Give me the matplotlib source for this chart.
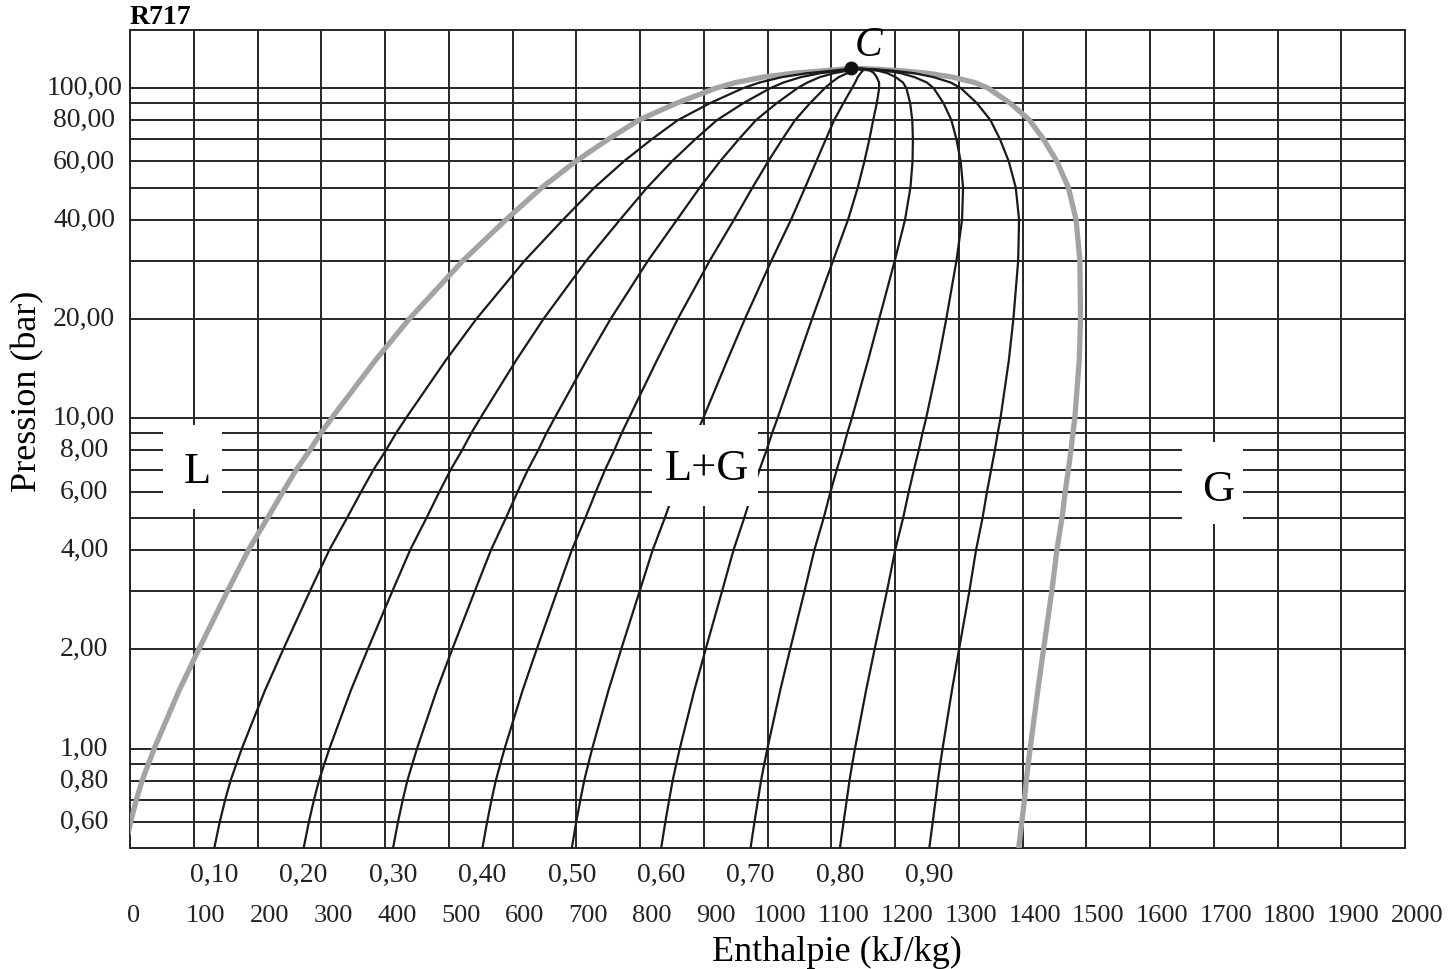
import numpy as np
import matplotlib
matplotlib.use('Agg')
import matplotlib.pyplot as plt
from matplotlib.patches import Rectangle
from matplotlib.ticker import FixedLocator, NullFormatter
from matplotlib.transforms import (ScaledTranslation, blended_transform_factory,
                                   IdentityTransform)

plt.rcParams['font.family'] = ['Liberation Serif', 'DejaVu Serif']

# ---- data ---------------------------------------------------------------
# saturation pressures (bar) and saturated liquid / vapour enthalpies (kJ/kg)
p_sat = [0.5, 0.6, 0.7, 0.8, 0.9, 1, 1.5, 2, 3, 4, 5, 6, 7, 8, 9, 10, 15, 20,
         30, 40, 50, 60, 70, 80, 90, 100, 104, 108, 111, 113, 114, 115]
h_liquid = [-8, 1, 10, 19, 29, 38, 77, 108, 153, 186, 216, 240, 261, 282,
            299, 316, 385, 438, 522, 590, 646, 699, 750, 798, 857, 919, 950,
            993, 1041, 1091, 1114, 1131]
h_vapour = [1394, 1399, 1403, 1406, 1409, 1412, 1424, 1433, 1446, 1454, 1462,
            1467, 1472, 1476, 1479, 1482, 1489, 1491, 1490, 1484, 1472, 1454,
            1433, 1411, 1381, 1346, 1325, 1290, 1251, 1208, 1176, 1131]

# critical point
h_crit = 1131
p_crit = 115

# vapour qualities of the iso-quality lines
qualities = [0.1, 0.2, 0.3, 0.4, 0.5, 0.6, 0.7, 0.8, 0.9]
quality_labels = ['0,10', '0,20', '0,30', '0,40', '0,50', '0,60', '0,70',
                  '0,80', '0,90']

# axis ticks
h_ticks = list(range(0, 2001, 100))
h_tick_labels = [str(v) for v in h_ticks]
p_ticks = [0.6, 0.8, 1, 2, 4, 6, 8, 10, 20, 40, 60, 80, 100]
p_tick_labels = ['0,60', '0,80', '1,00', '2,00', '4,00', '6,00', '8,00',
                 '10,00', '20,00', '40,00', '60,00', '80,00', '100,00']
p_minor = [0.7, 0.9, 3, 5, 7, 9, 30, 50, 70, 90]

# ---- figure ---------------------------------------------------------------
W, H = 1452, 970
fig = plt.figure(figsize=(W / 100, H / 100), dpi=100)
ax = fig.add_axes([130 / W, 1 - 849 / H, 1275 / W, 818 / H])

ax.set_yscale('log')
ax.set_xlim(0, 2000)
ax.set_ylim(0.5, 150)

grid_col = '#262626'
ax.set_xticks(h_ticks)
ax.set_xticklabels(h_tick_labels)
ax.yaxis.set_major_locator(FixedLocator(p_ticks))
ax.set_yticklabels(p_tick_labels)
ax.yaxis.set_minor_locator(FixedLocator(p_minor))
ax.yaxis.set_minor_formatter(NullFormatter())
ax.xaxis.set_minor_locator(FixedLocator([]))

ax.grid(True, which='both', color=grid_col, lw=1.4)
ax.set_axisbelow(True)
for s in ax.spines.values():
    s.set_color(grid_col)
    s.set_linewidth(1.4)

ax.tick_params(axis='both', which='both', length=0)
ax.tick_params(axis='y', labelsize=20, pad=33, colors='#222222')
ax.tick_params(axis='x', labelsize=19, pad=40.5, colors='#222222')

# saturation dome
p_arr = np.array(p_sat)
hl = np.array(h_liquid, dtype=float)
hv = np.array(h_vapour, dtype=float)
dome_col = '#a3a3a3'
ax.plot(hl, p_arr, color=dome_col, lw=3.8, zorder=3, solid_capstyle='butt',
        solid_joinstyle='round')
ax.plot(hv, p_arr, color=dome_col, lw=3.8, zorder=3, solid_capstyle='butt',
        solid_joinstyle='round')

# iso-quality lines
for q in qualities:
    hq = hl + q * (hv - hl)
    ax.plot(hq, p_arr, color='#1a1a1a', lw=1.6, zorder=4,
            solid_joinstyle='round')

# critical point
ax.plot([h_crit], [p_crit], 'o', color='#111111', ms=9, zorder=6)
ax.text(h_crit + 27, 135, 'C', fontsize=30, style='italic', ha='center',
        va='center', zorder=7)

# region labels on white boxes (box extents in pixels around the anchor)
fig.canvas.draw()


def region_label(h, p, txt, left, right, up, down):
    x, y = ax.transData.transform((h, p))
    ax.add_patch(Rectangle((x - left, y - down), left + right, up + down,
                           transform=IdentityTransform(), facecolor='white',
                           edgecolor='none', zorder=5))
    ax.text(h, p, txt, fontsize=32, ha='center', va='baseline', zorder=6)


region_label(105, 6.43, 'L', 34, 25, 57, 27)
region_label(905, 6.56, 'L+G', 55, 51, 54, 27)
region_label(1707, 5.67, 'G', 36, 25, 58, 24)

# quality labels under the axis
trans = blended_transform_factory(ax.transData, ax.transAxes)
for q, lab in zip(qualities, quality_labels):
    hq0 = hl[0] + q * (hv[0] - hl[0])
    ax.text(hq0, -26 / 818, lab, transform=trans, fontsize=20, ha='center',
            va='center', color='#222222')

# axis labels and title
ax.set_xlabel('Enthalpie (kJ/kg)', fontsize=26, va='center')
ax.xaxis.set_label_coords((837 - 130) / 1275, (849 - 952) / 818)
ax.set_ylabel('Pression (bar)', fontsize=26, va='center')
ax.yaxis.set_label_coords((28 - 130) / 1275, (849 - 391) / 818)
ax.set_title('R717', loc='left', fontsize=20, fontweight='bold', pad=5)

# fine placement of tick labels as in the original
for lab in ax.get_yticklabels():
    lab.set_ha('center')
    lab.set_transform(lab.get_transform() +
                      ScaledTranslation(0, 3.5 / 100, fig.dpi_scale_trans))
for i, lab in enumerate(ax.get_xticklabels()):
    dx = 4 if i == 0 else 12
    lab.set_transform(lab.get_transform() +
                      ScaledTranslation(dx / 100, 0, fig.dpi_scale_trans))

fig.savefig('out.png', dpi=100)
